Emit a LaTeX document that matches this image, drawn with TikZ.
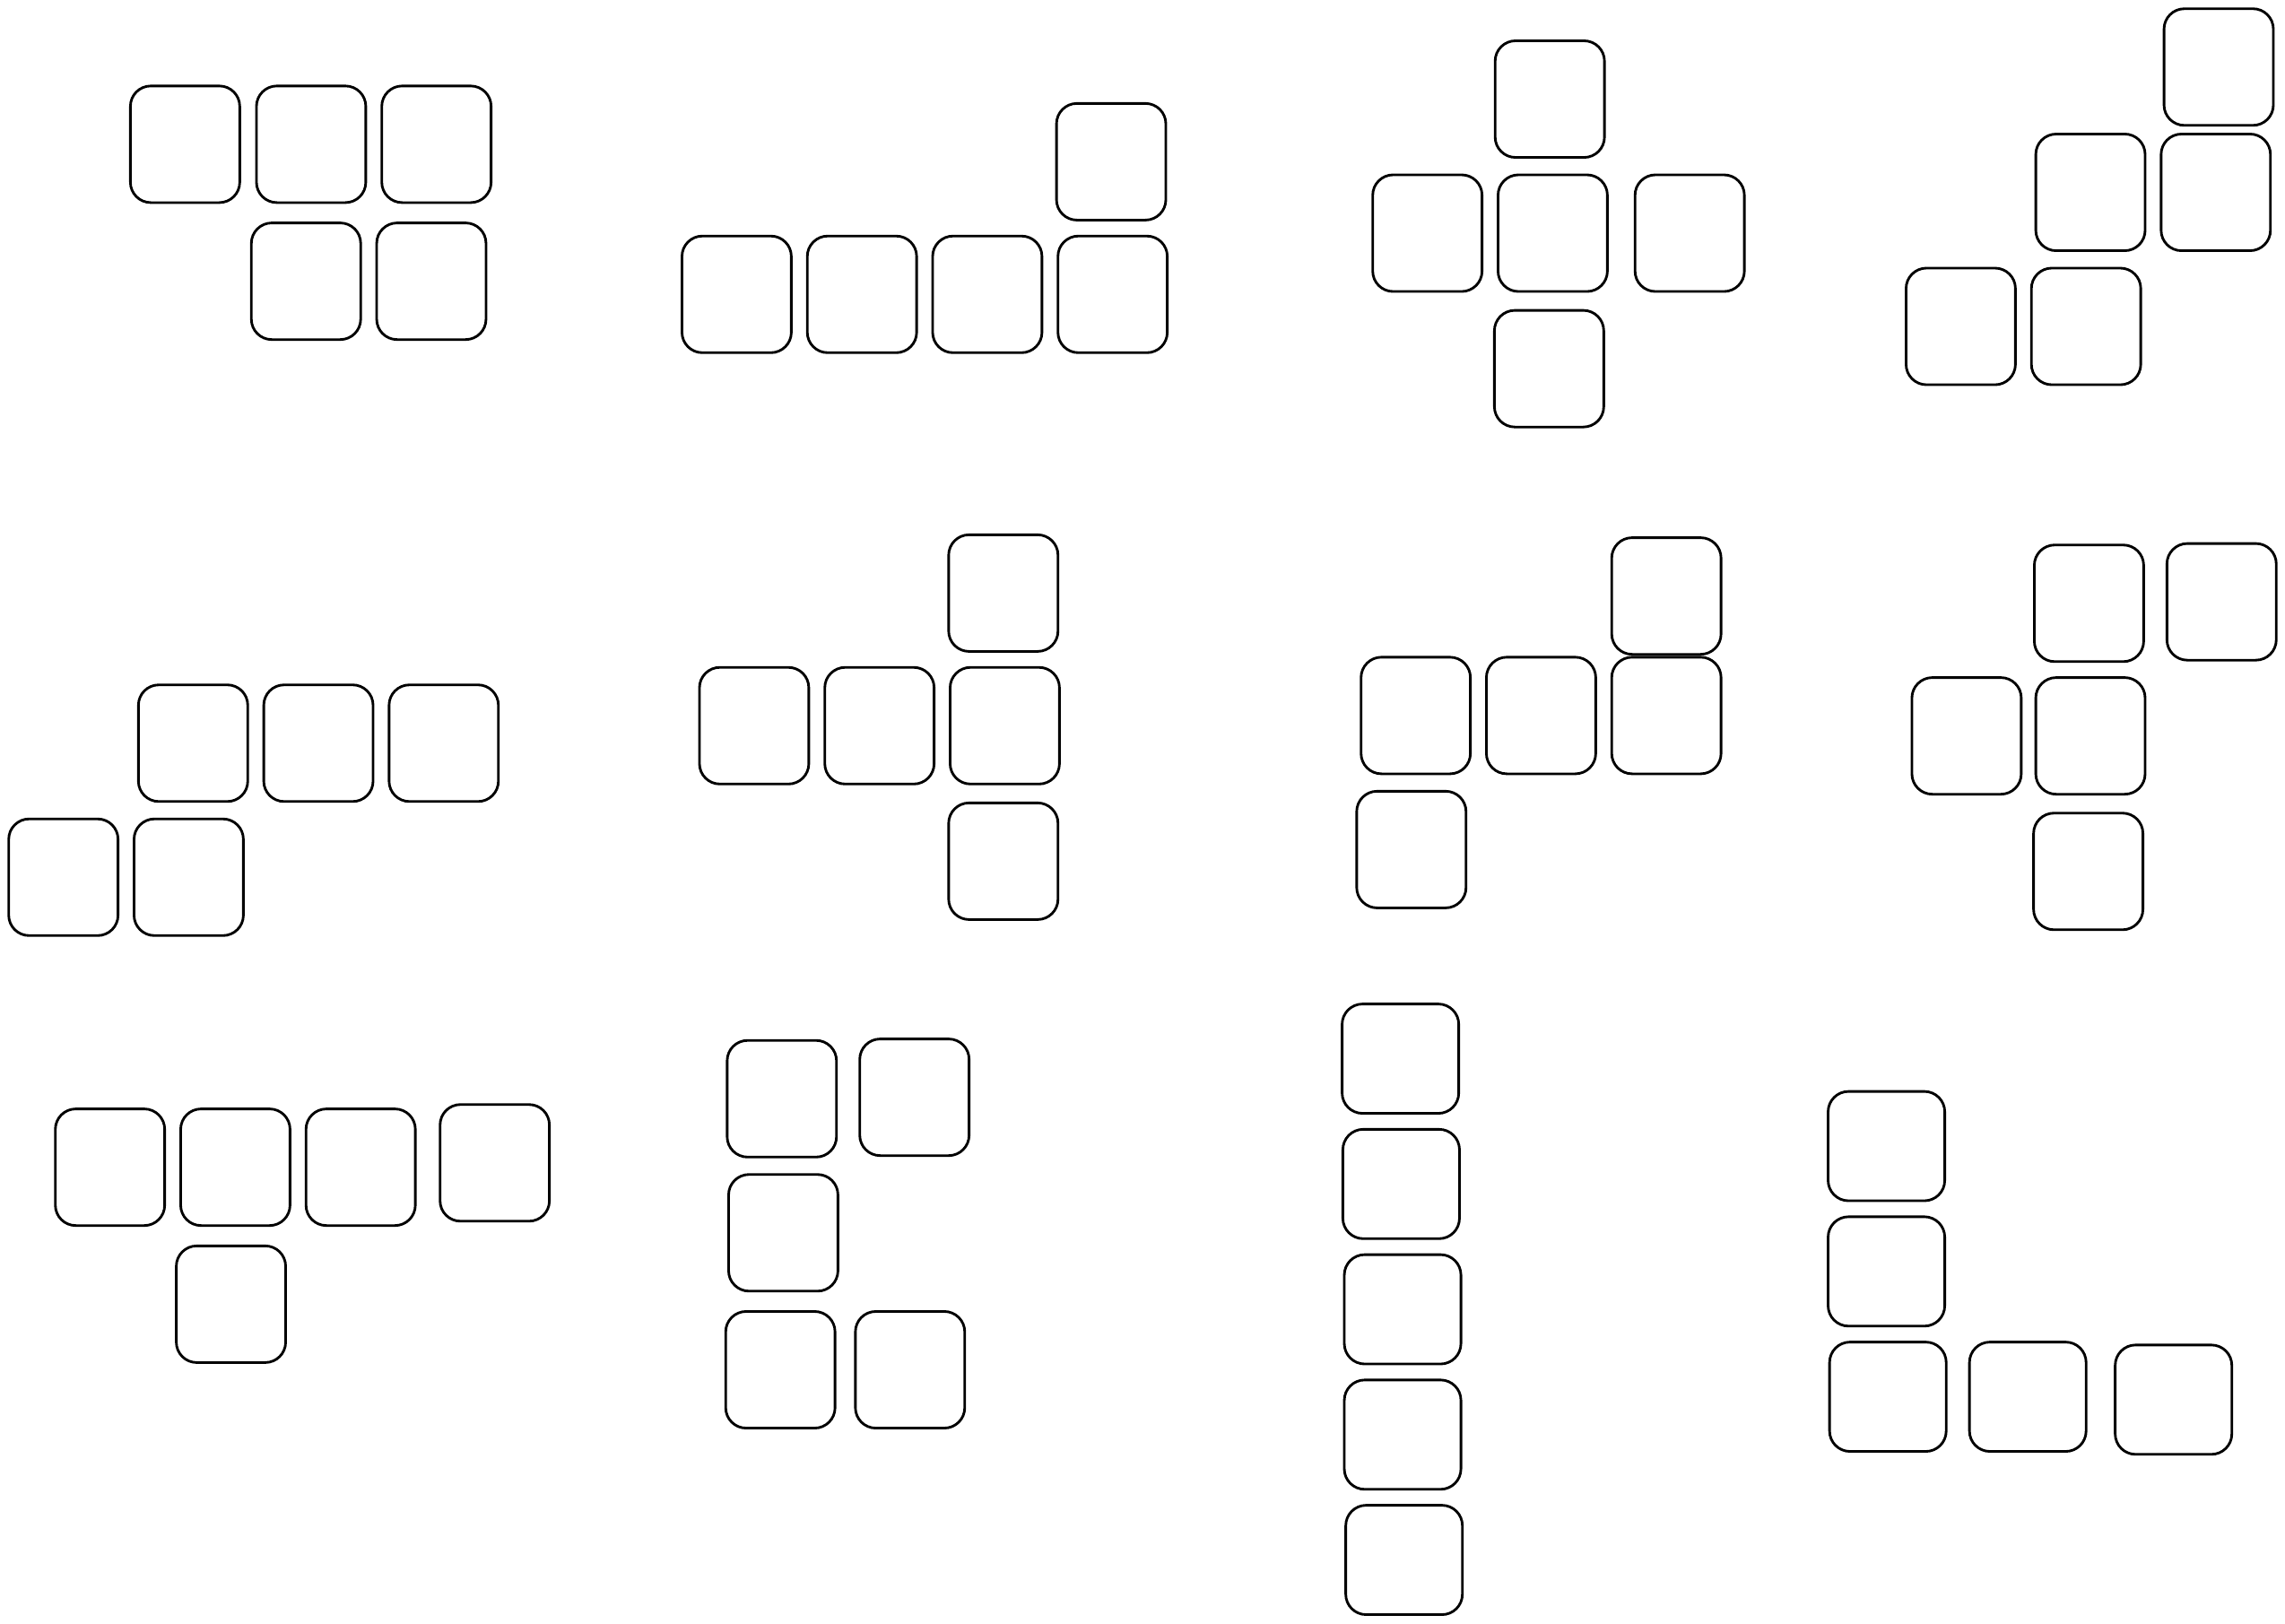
\documentclass[tikz,border=0pt]{standalone}
\begin{document}
\begin{tikzpicture}[x=0.01cm,y=-0.01cm,line width=0.5pt]
	
	\useasboundingbox (0,0) rectangle (1568,1114);
	
	\begin{scope}[every node/.style={rectangle,rounded corners=0.14cm,draw,minimum width=0.75cm,minimum height=0.8cm,inner sep=0pt}]
	\node (tile 1a) at (127,99) {};
	\node (tile 1b) at (213.5,99) {};
	\node (tile 1c) at (299.5,99) {};
	\node (tile 1d) at (210,193) {};
	\node (tile 1e) at (296,193) {};
	
	\node (tile 2a) at (762.5,111) {};
	\node (tile 2b) at (505.5,202) {};
	\node (tile 2c) at (591.5,202) {};
	\node (tile 2d) at (677.5,202) {};
	\node (tile 2e) at (763.5,202) {};
	
	\node (tile 3a) at (1063.5,68) {};
	\node (tile 3b) at (979.5,160) {};
	\node (tile 3c) at (1065.5,160) {};
	\node (tile 3d) at (1159.5,160) {};
	\node (tile 3e) at (1063,253) {};
	
	\node (tile 4a) at (1522.5,46) {};
	\node (tile 4b) at (1434.5,132) {};
	\node (tile 4c) at (1520.5,132) {};
	\node (tile 4d) at (1345.5,224) {};
	\node (tile 4e) at (1431.5,224) {};
	
	\node (tile 5a) at (132.5,510) {};
	\node (tile 5b) at (218.5,510) {};
	\node (tile 5c) at (304.5,510) {};
	\node (tile 5d) at (43.5,602) {};
	\node (tile 5e) at (129.5,602) {};
	
	\node (tile 6a) at (688.5,407) {};
	\node (tile 6b) at (517.5,498) {};
	\node (tile 6c) at (603.5,498) {};
	\node (tile 6d) at (689.5,498) {};
	\node (tile 6e) at (688.5,591) {};
	
	\node (tile 7a) at (1143.5,409) {};
	\node (tile 7b) at (971.5,491) {};
	\node (tile 7c) at (1057.5,491) {};
	\node (tile 7d) at (1143.5,491) {};
	\node (tile 7e) at (968.5,583) {};
	
	\node (tile 8a) at (1433.5,414) {};
	\node (tile 8b) at (1524.5,413) {};
	\node (tile 8c) at (1349.5,505) {};
	\node (tile 8d) at (1434.5,505) {};
	\node (tile 8e) at (1433,598) {};
	
	\node (tile 9a) at (75.5,801) {};
	\node (tile 9b) at (161.5,801) {};
	\node (tile 9c) at (247.5,801) {};
	\node (tile 9d) at (339.5,798) {};
	\node (tile 9e) at (158.5,895) {};
	
	\node (tile 10a) at (536.5,754) {};
	\node (tile 10b) at (627.5,753) {};
	\node (tile 10c) at (537.5,846) {};
	\node (tile 10d) at (535.5,940) {};
	\node (tile 10e) at (624.5,940) {};
	\end{scope}
	
	\begin{scope}[every node/.style={rectangle,rounded corners=0.14cm,draw,minimum width=0.8cm,minimum height=0.75cm,inner sep=0pt}]
	\node (tile 11a) at (961,726.5) {};
	\node (tile 11b) at (961.5,812.5) {};
	\node (tile 11c) at (962.5,898.5) {};
	\node (tile 11d) at (962.5,984.5) {};
	\node (tile 11e) at (963.5,1070.5) {};
	
	\node (tile 12a) at (1294.5,786.5) {};
	\node (tile 12b) at (1294.5,872.5) {};
	\node (tile 12c) at (1295.5,958.5) {};
	\node (tile 12d) at (1391.5,958.5) {};
	\node (tile 12e) at (1491.5,960.5) {};
	\end{scope}
	
\end{tikzpicture}
\end{document}
